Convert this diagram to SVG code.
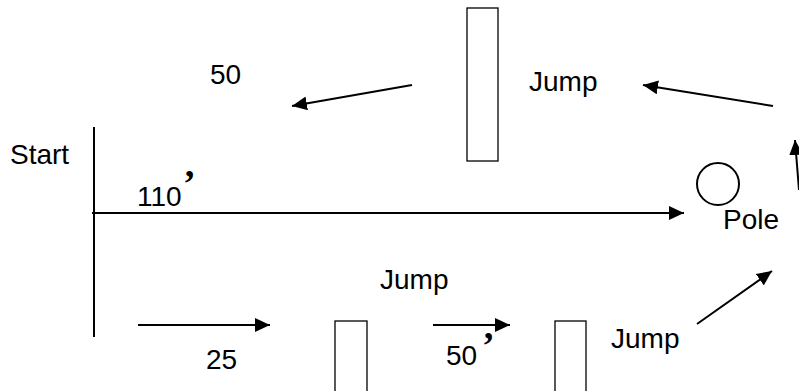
<svg xmlns="http://www.w3.org/2000/svg" width="799" height="391" viewBox="0 0 799 391">
<style>
.t{font-family:"Liberation Sans",Arial,sans-serif;font-size:28px;fill:#000}
.ap{font-family:"Liberation Serif","Times New Roman",serif;font-size:38px;font-weight:bold;fill:#000}
.ln{stroke:#000;stroke-width:2;fill:none}
.box{stroke:#000;stroke-width:1.3;fill:#fff}
</style>
<defs>
<marker id="ah" markerUnits="userSpaceOnUse" markerWidth="16" markerHeight="14" refX="15" refY="7" orient="auto">
<path d="M0,0 L15,7 L0,14 Z" fill="#000"/>
</marker>
</defs>
<rect width="799" height="391" fill="#fff"/>
<g id="connectors">
<line class="ln" x1="94" y1="127" x2="94" y2="337"/>
<line class="ln" x1="92" y1="213" x2="684" y2="213" marker-end="url(#ah)"/>
<line class="ln" x1="412" y1="85" x2="292" y2="106" marker-end="url(#ah)"/>
<line class="ln" x1="773" y1="106" x2="643" y2="85" marker-end="url(#ah)"/>
<line class="ln" x1="799" y1="190" x2="795" y2="140" marker-end="url(#ah)"/>
<line class="ln" x1="697" y1="324" x2="772" y2="271" marker-end="url(#ah)"/>
<line class="ln" x1="138" y1="325" x2="270" y2="325" marker-end="url(#ah)"/>
<line class="ln" x1="433" y1="325" x2="510" y2="325" marker-end="url(#ah)"/>
</g>
<g id="jump-top"><rect class="box" x="467" y="8" width="31" height="153"/></g>
<g id="jump-mid"><rect class="box" x="335" y="321" width="32" height="75"/></g>
<g id="jump-right"><rect class="box" x="555" y="321" width="31" height="75"/></g>
<g id="pole"><circle class="ln" cx="718" cy="184" r="21" stroke-width="1.5"/></g>
<g id="labels">
<text class="t" x="210" y="84">50</text>
<text class="t" x="529" y="91">Jump</text>
<text class="t" x="10" y="164">Start</text>
<text class="t" x="137" y="206">110</text>
<text class="ap" x="183" y="196">’</text>
<text class="t" x="723" y="229">Pole</text>
<text class="t" x="380" y="289">Jump</text>
<text class="t" x="206" y="369">25</text>
<text class="t" x="446" y="365">50</text>
<text class="ap" x="482" y="358">’</text>
<text class="t" x="611" y="348">Jump</text>
</g>
</svg>
